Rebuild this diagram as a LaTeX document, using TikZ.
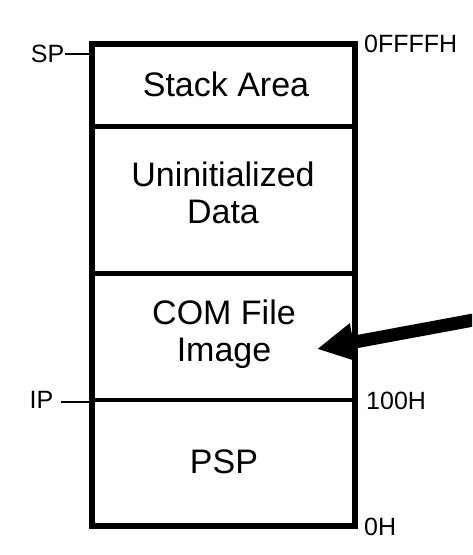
\documentclass[tikz,border=0pt]{standalone}
\usepackage{fontspec}
\setmainfont{Liberation Sans}
\usetikzlibrary{arrows.meta}
\tikzset{
  boxtext/.style={font=\fontsize{34}{37}\selectfont, inner sep=0pt, align=center},
  addrlabel/.style={font=\fontsize{25}{28}\selectfont, inner sep=0pt},
  outerbox/.style={line width=6pt, line join=miter},
  divider/.style={line width=4.5pt},
  tick/.style={line width=2pt},
  bigarrow/.style={line width=13pt, -{Triangle[length=37pt,width=36pt]}}
}
\begin{document}
\begin{tikzpicture}[x=1pt,y=-1pt]
\useasboundingbox (0,0) rectangle (472,555);
\clip (0,0) rectangle (472,555);
% box corners
\coordinate (tl) at (92,44);
\coordinate (br) at (355,526);
% dividers
\coordinate (d1l) at (92,126.5); \coordinate (d1r) at (355,126.5);
\coordinate (d2l) at (92,273.5); \coordinate (d2r) at (355,273.5);
\coordinate (d3l) at (92,400);   \coordinate (d3r) at (355,400);
\draw[divider] (d1l) -- (d1r);
\draw[divider] (d2l) -- (d2r);
\draw[divider] (d3l) -- (d3r);
\draw[outerbox] (tl) rectangle (br);
% section texts
\node[boxtext, anchor=base] (stack) at (226,96) {Stack Area};
\node[boxtext] (uninit) at (223,193) {Uninitialized\\Data};
\node[boxtext] (com) at (224,334.5) {COM File\\Image};
\node[boxtext, anchor=base] (psp) at (224,473) {PSP};
% address labels
\node[addrlabel, anchor=base west] (top) at (364,52) {0FFFFH};
\node[addrlabel, anchor=base west] (mid) at (366,409) {100H};
\node[addrlabel, anchor=base west] (bot) at (364,535) {0H};
% register labels and ticks
\node[addrlabel, anchor=base east] (sp) at (64.5,62) {SP};
\node[addrlabel, anchor=base east] (ip) at (53.5,408) {IP};
\coordinate (spend) at (89,54);
\coordinate (ipstart) at (61,402);
\coordinate (ipend) at (89,402);
\draw[tick] (sp.east |- spend) -- (spend);
\draw[tick] (ipstart) -- (ipend);
% arrow
\coordinate (arrstart) at (495,316);
\coordinate (arrtip) at (317,349);
\draw[bigarrow] (arrstart) -- (arrtip);
\end{tikzpicture}
\end{document}
